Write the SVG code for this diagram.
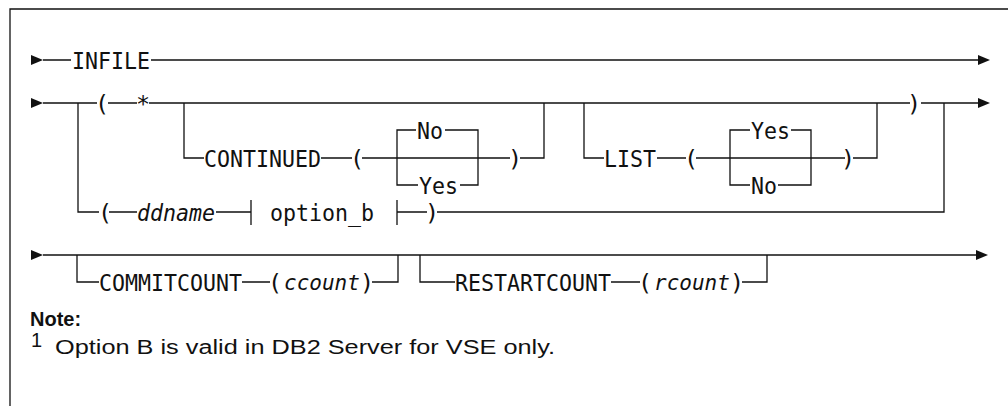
<svg xmlns="http://www.w3.org/2000/svg" width="1008" height="406" viewBox="0 0 1008 406">
<style>
.m{font-family:"DejaVu Sans Mono","Liberation Mono",monospace;font-size:23.5px;fill:#111}
.i{font-style:italic}
.s{font-size:21px}
.n{font-family:"Liberation Sans",Arial,sans-serif;font-size:20px;fill:#111}
.b{font-weight:bold}
.l{stroke:#111;stroke-width:1.3;fill:none}
.a{fill:#111}
</style>
<rect x="0" y="0" width="1008" height="406" fill="#fff"/>
<path class="l" d="M10,406 V9 H1008"/>
<g id="connectors">
<path class="a" d="M31,55 L43,60 L31,65Z"/>
<path class="a" d="M31,98 L43,103 L31,108Z"/>
<path class="a" d="M31,250 L43,255 L31,260Z"/>
<path class="a" d="M978,55 L990,60 L978,65Z"/>
<path class="a" d="M978,98 L990,103 L978,108Z"/>
<path class="a" d="M976,250 L988,255 L976,260Z"/>
<path class="l" d="M43,60 H71 M151,60 H978"/>
<path class="l" d="M43,103 H97 M108,103 H137 M149,103 H910 M921,103 H978"/>
<path class="l" d="M184,103 V158 H204 M321,158 H352 M362,158 H510 M520,158 H544 V103"/>
<path class="l" d="M397,158 V130 H416 M445,130 H478 V185 H460 M418,185 H397 V158"/>
<path class="l" d="M584,103 V158 H604 M657,158 H686 M696,158 H845 M853,158 H877 V103"/>
<path class="l" d="M730,158 V130 H750 M791,130 H811 V185 H778 M750,185 H730 V158"/>
<path class="l" d="M78,103 V212 H99 M109,212 H137 M216,212 H251 M251,200 V225 M397,200 V225 M397,212 H427 M437,212 H944 V103"/>
<path class="l" d="M43,255 H976"/>
<path class="l" d="M77,255 V282 H99 M242,282 H270 M372,282 H398 V255"/>
<path class="l" d="M420,255 V282 H455 M611,282 H640 M742,282 H767 V255"/>
</g>
<g id="node-infile"><text class="m" x="72" y="68.5" textLength="78" lengthAdjust="spacingAndGlyphs">INFILE</text></g>
<g id="node-open1"><text class="m" x="95" y="111.5">(</text></g>
<g id="node-star"><text class="m" x="136" y="111.5">*</text></g>
<g id="node-close1"><text class="m" x="907" y="111.5">)</text></g>
<g id="node-continued"><text class="m" x="204" y="166.5" textLength="117" lengthAdjust="spacingAndGlyphs">CONTINUED</text></g>
<g id="node-cont-open"><text class="m" x="350" y="166.5">(</text></g>
<g id="node-cont-no"><text class="m" x="417" y="138.5" textLength="26" lengthAdjust="spacingAndGlyphs">No</text></g>
<g id="node-cont-yes"><text class="m" x="419" y="193.5" textLength="39" lengthAdjust="spacingAndGlyphs">Yes</text></g>
<g id="node-cont-close"><text class="m" x="508" y="166.5">)</text></g>
<g id="node-list"><text class="m" x="604" y="166.5" textLength="52" lengthAdjust="spacingAndGlyphs">LIST</text></g>
<g id="node-list-open"><text class="m" x="684" y="166.5">(</text></g>
<g id="node-list-yes"><text class="m" x="751" y="138.5" textLength="39" lengthAdjust="spacingAndGlyphs">Yes</text></g>
<g id="node-list-no"><text class="m" x="751" y="193.5" textLength="26" lengthAdjust="spacingAndGlyphs">No</text></g>
<g id="node-list-close"><text class="m" x="841" y="166.5">)</text></g>
<g id="node-open2"><text class="m" x="98" y="220.5">(</text></g>
<g id="node-ddname"><text class="m i" x="137" y="220.5" textLength="78" lengthAdjust="spacingAndGlyphs">ddname</text></g>
<g id="node-optionb"><text class="m" x="270" y="220.5" textLength="104" lengthAdjust="spacingAndGlyphs">option_b</text></g>
<g id="node-close2"><text class="m" x="425" y="220.5">)</text></g>
<g id="node-commitcount"><text class="m" x="99" y="290.5" textLength="143" lengthAdjust="spacingAndGlyphs">COMMITCOUNT</text></g>
<g id="node-ccount">
<text class="m" x="268" y="290.5">(</text>
<text class="m i s" x="284" y="290">ccount</text>
<text class="m" x="360" y="290.5">)</text>
</g>
<g id="node-restartcount"><text class="m" x="455" y="290.5" textLength="156" lengthAdjust="spacingAndGlyphs">RESTARTCOUNT</text></g>
<g id="node-rcount">
<text class="m" x="638" y="290.5">(</text>
<text class="m i s" x="654" y="290">rcount</text>
<text class="m" x="730" y="290.5">)</text>
</g>
<g id="note">
<text class="n b" x="30" y="326">Note:</text>
<text class="n" x="31" y="347" font-size="11">1</text>
<text class="n" x="55" y="354" font-size="22" textLength="500" lengthAdjust="spacingAndGlyphs">Option B is valid in DB2 Server for VSE only.</text>
</g>
</svg>
